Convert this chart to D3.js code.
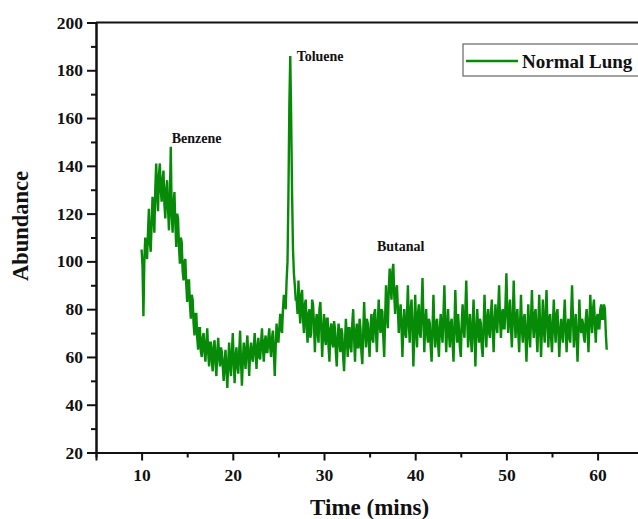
<!DOCTYPE html>
<html>
<head>
<meta charset="utf-8">
<script src="https://cdn.jsdelivr.net/npm/d3@7"></script>
<style>
  html, body { margin: 0; padding: 0; background: #fff; }
  svg { display: block; }
  text { font-family: "Liberation Serif", "Times New Roman", serif; font-weight: bold; fill: #111; }
</style>
</head>
<body>
<svg id="chart" width="638" height="519"></svg>
<script>
// ---- data ----
const seriesName = "Normal Lung";
const time = [
  10.0,10.1,10.2,10.3,10.4,10.5,10.6,10.7,10.8,10.9,
  11.0,11.1,11.2,11.3,11.4,11.5,11.6,11.7,11.8,11.9,
  12.0,12.1,12.2,12.3,12.4,12.5,12.6,12.7,12.8,12.9,
  13.0,13.1,13.2,13.3,13.4,13.5,13.6,13.7,13.8,13.9,
  14.0,14.1,14.2,14.3,14.4,14.5,14.6,14.7,14.8,14.9,
  15.0,15.1,15.2,15.3,15.4,15.5,15.6,15.7,15.8,15.9,
  16.0,16.1,16.2,16.3,16.4,16.5,16.6,16.7,16.8,16.9,
  17.0,17.1,17.2,17.3,17.4,17.5,17.6,17.7,17.8,17.9,
  18.0,18.1,18.2,18.3,18.4,18.5,18.6,18.7,18.8,18.9,
  19.0,19.1,19.2,19.3,19.4,19.5,19.6,19.7,19.8,19.9,
  20.0,20.1,20.2,20.3,20.4,20.5,20.6,20.7,20.8,20.9,
  21.0,21.1,21.2,21.3,21.4,21.5,21.6,21.7,21.8,21.9,
  22.0,22.1,22.2,22.3,22.4,22.5,22.6,22.7,22.8,22.9,
  23.0,23.1,23.2,23.3,23.4,23.5,23.6,23.7,23.8,23.9,
  24.0,24.1,24.2,24.3,24.4,24.5,24.6,24.7,24.8,24.9,
  25.0,25.1,25.2,25.3,25.4,25.5,25.6,25.7,25.8,25.9,
  26.0,26.1,26.2,26.3,26.4,26.5,26.6,26.7,26.8,26.9,
  27.0,27.1,27.2,27.3,27.4,27.5,27.6,27.7,27.8,27.9,
  28.0,28.1,28.2,28.3,28.4,28.5,28.6,28.7,28.8,28.9,
  29.0,29.1,29.2,29.3,29.4,29.5,29.6,29.7,29.8,29.9,
  30.0,30.1,30.2,30.3,30.4,30.5,30.6,30.7,30.8,30.9,
  31.0,31.1,31.2,31.3,31.4,31.5,31.6,31.7,31.8,31.9,
  32.0,32.1,32.2,32.3,32.4,32.5,32.6,32.7,32.8,32.9,
  33.0,33.1,33.2,33.3,33.4,33.5,33.6,33.7,33.8,33.9,
  34.0,34.1,34.2,34.3,34.4,34.5,34.6,34.7,34.8,34.9,
  35.0,35.1,35.2,35.3,35.4,35.5,35.6,35.7,35.8,35.9,
  36.0,36.1,36.2,36.3,36.4,36.5,36.6,36.7,36.8,36.9,
  37.0,37.1,37.2,37.3,37.4,37.5,37.6,37.7,37.8,37.9,
  38.0,38.1,38.2,38.3,38.4,38.5,38.6,38.7,38.8,38.9,
  39.0,39.1,39.2,39.3,39.4,39.5,39.6,39.7,39.8,39.9,
  40.0,40.1,40.2,40.3,40.4,40.5,40.6,40.7,40.8,40.9,
  41.0,41.1,41.2,41.3,41.4,41.5,41.6,41.7,41.8,41.9,
  42.0,42.1,42.2,42.3,42.4,42.5,42.6,42.7,42.8,42.9,
  43.0,43.1,43.2,43.3,43.4,43.5,43.6,43.7,43.8,43.9,
  44.0,44.1,44.2,44.3,44.4,44.5,44.6,44.7,44.8,44.9,
  45.0,45.1,45.2,45.3,45.4,45.5,45.6,45.7,45.8,45.9,
  46.0,46.1,46.2,46.3,46.4,46.5,46.6,46.7,46.8,46.9,
  47.0,47.1,47.2,47.3,47.4,47.5,47.6,47.7,47.8,47.9,
  48.0,48.1,48.2,48.3,48.4,48.5,48.6,48.7,48.8,48.9,
  49.0,49.1,49.2,49.3,49.4,49.5,49.6,49.7,49.8,49.9,
  50.0,50.1,50.2,50.3,50.4,50.5,50.6,50.7,50.8,50.9,
  51.0,51.1,51.2,51.3,51.4,51.5,51.6,51.7,51.8,51.9,
  52.0,52.1,52.2,52.3,52.4,52.5,52.6,52.7,52.8,52.9,
  53.0,53.1,53.2,53.3,53.4,53.5,53.6,53.7,53.8,53.9,
  54.0,54.1,54.2,54.3,54.4,54.5,54.6,54.7,54.8,54.9,
  55.0,55.1,55.2,55.3,55.4,55.5,55.6,55.7,55.8,55.9,
  56.0,56.1,56.2,56.3,56.4,56.5,56.6,56.7,56.8,56.9,
  57.0,57.1,57.2,57.3,57.4,57.5,57.6,57.7,57.8,57.9,
  58.0,58.1,58.2,58.3,58.4,58.5,58.6,58.7,58.8,58.9,
  59.0,59.1,59.2,59.3,59.4,59.5,59.6,59.7,59.8,59.9,
  60.0,60.1,60.2,60.3,60.4,60.5,60.6,60.7,60.8,60.9,
  61.0
];
const abundance = [
  105,98,77,100,110,104,101,112,122,108,
  104,116,127,120,112,130,141,128,121,136,
  141,130,125,134,138,124,118,130,134,122,
  113,126,148,120,112,124,129,116,106,120,
  118,106,99,110,108,96,92,100,101,90,
  83,92,92,82,76,86,84,74,69,78,
  78,68,63,72,72,62,60,68,70,62,
  58,66,72,62,56,66,66,58,54,64,
  67,58,52,62,68,60,56,64,62,56,
  50,58,63,54,47,58,66,56,52,62,
  70,58,49,60,64,56,53,62,71,58,
  48,58,66,60,55,64,69,60,52,62,
  66,60,58,64,70,62,55,64,68,60,
  59,66,72,64,58,66,69,62,62,68,
  72,64,60,68,71,62,52,64,74,68,
  66,72,78,72,70,80,86,82,80,92,
  100,128,165,186,160,128,105,95,90,84,
  84,78,92,80,74,86,88,76,70,82,
  84,72,66,78,80,68,70,84,82,74,
  62,74,78,70,66,80,83,72,60,70,
  78,68,65,76,76,64,58,72,74,66,
  64,75,72,62,56,68,74,66,62,72,
  70,60,54,66,76,68,60,72,72,64,
  62,74,80,68,58,70,74,64,64,76,
  72,62,57,70,83,72,64,76,74,66,
  60,72,78,68,66,78,80,70,62,74,
  84,74,70,80,79,68,60,76,90,78,
  72,88,97,90,84,96,99,86,78,88,
  90,80,70,78,82,72,60,74,80,70,
  68,78,90,74,66,80,84,72,56,70,
  86,72,64,78,82,70,68,80,93,76,
  62,74,80,70,66,76,74,64,58,72,
  86,72,64,74,76,66,60,72,78,70,
  66,78,90,74,62,72,80,70,64,74,
  76,66,58,72,88,74,66,78,72,64,
  60,74,82,72,68,80,92,76,64,72,
  78,68,62,74,84,70,56,70,80,72,
  66,76,74,64,60,72,86,74,64,76,
  80,70,68,78,84,72,62,74,82,74,
  70,80,90,76,68,78,80,72,72,82,
  95,78,70,80,84,72,64,76,92,78,
  68,76,80,70,62,74,86,72,66,76,
  78,68,58,72,82,70,64,76,88,74,
  68,78,80,70,62,74,86,72,60,72,
  84,72,66,78,88,74,64,76,78,68,
  62,74,84,72,66,78,80,70,60,70,
  76,70,66,76,84,72,62,72,76,68,
  66,78,90,76,64,72,78,68,58,70,
  84,74,70,76,74,68,66,76,80,72,
  62,74,86,76,70,80,84,74,66,76,
  78,72,72,80,82,76,76,82,80,70,
  63
];
const xTicks = [10, 20, 30, 40, 50, 60];
const xMinorTicks = [15, 25, 35, 45, 55];
const yTicks = [20, 40, 60, 80, 100, 120, 140, 160, 180, 200];
const yMinorTicks = [30, 50, 70, 90, 110, 130, 150, 170, 190];
const peakLabels = ["Benzene", "Toluene", "Butanal"];
const labelTimes = [13.3, 27.0, 35.8];
const labelValues = [149.5, 184, 104.5];

// ---- layout ----
const svg = d3.select("#chart");
const mLeft = 96, mTop = 22.5, mBottom = 452.5;
const x = d3.scaleLinear().domain([5, 65]).range([mLeft, mLeft + 547.2]);
const y = d3.scaleLinear().domain([20, 200]).range([mBottom, mTop]);
const green = "#078a07";

// line
const data = time.map((t, i) => ({t, v: abundance[i]}));
svg.append("path")
  .datum(data)
  .attr("fill", "none")
  .attr("stroke", green)
  .attr("stroke-width", 2.4)
  .attr("stroke-linejoin", "miter")
  .attr("d", d3.line().x(d => x(d.t)).y(d => y(d.v)));

// axes
const xAxis = svg.append("g").attr("transform", `translate(0,${mBottom})`)
  .call(d3.axisBottom(x).tickValues(xTicks).tickSize(8).tickPadding(5).tickFormat(d3.format("d")));
const xMinor = svg.append("g").attr("transform", `translate(0,${mBottom})`)
  .call(d3.axisBottom(x).tickValues(xMinorTicks).tickSize(5).tickFormat(""));
const yAxis = svg.append("g").attr("transform", `translate(${mLeft},0)`)
  .call(d3.axisLeft(y).tickValues(yTicks).tickSize(9).tickPadding(4).tickFormat(d3.format("d")));
const yMinor = svg.append("g").attr("transform", `translate(${mLeft},0)`)
  .call(d3.axisLeft(y).tickValues(yMinorTicks).tickSize(5).tickFormat(""));

[xAxis, xMinor, yAxis, yMinor].forEach(g => {
  g.select(".domain").attr("stroke", "#111").attr("stroke-width", 2);
  g.selectAll(".tick line").attr("stroke", "#111").attr("stroke-width", 2);
  g.selectAll(".tick text").style("font-family", '"Liberation Serif", serif')
    .style("font-weight", "bold").style("font-size", "17.5px").attr("fill", "#111");
});
xAxis.selectAll(".tick text").attr("dy", "0.9em");

// top frame line
svg.append("line").attr("x1", mLeft).attr("x2", 638).attr("y1", mTop).attr("y2", mTop)
  .attr("stroke", "#111").attr("stroke-width", 2);

// axis titles
svg.append("text").attr("x", x(35)).attr("y", 515).attr("text-anchor", "middle")
  .style("font-size", "23px").text("Time (mins)");
svg.append("text").attr("transform", `translate(28,226) rotate(-90)`).attr("text-anchor", "middle")
  .style("font-size", "22.5px").text("Abundance");

// peak labels
peakLabels.forEach((lab, i) => {
  svg.append("text").attr("x", x(labelTimes[i])).attr("y", y(labelValues[i]))
    .style("font-size", "14px").text(lab);
});

// legend
const lg = svg.append("g");
lg.append("rect").attr("x", 463).attr("y", 44).attr("width", 190).attr("height", 32)
  .attr("fill", "#fff").attr("stroke", "#666").attr("stroke-width", 1.2);
lg.append("line").attr("x1", 466).attr("x2", 518).attr("y1", 61).attr("y2", 61)
  .attr("stroke", green).attr("stroke-width", 2.5);
lg.append("text").attr("x", 522).attr("y", 67.5).style("font-size", "19px").text(seriesName);
</script>
</body>
</html>
